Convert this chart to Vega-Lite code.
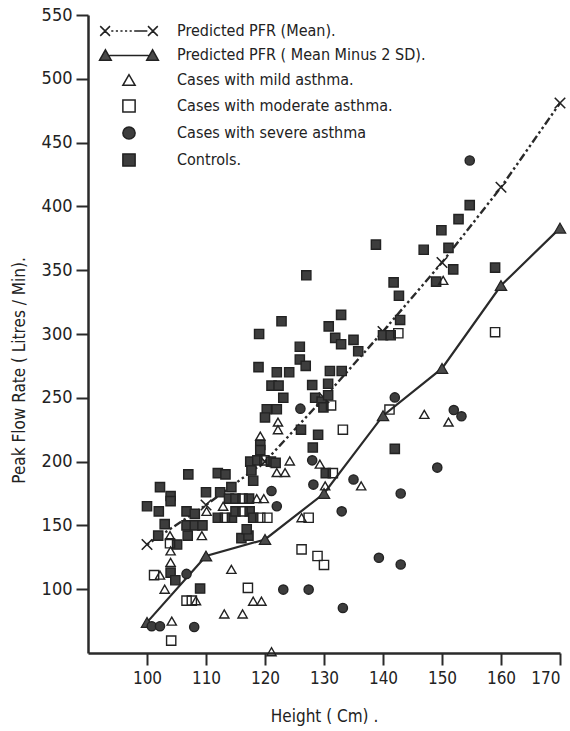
{
  "$schema": "https://vega.github.io/schema/vega-lite/v6.json",
  "width": 472,
  "height": 638,
  "autosize": "none",
  "padding": {"left": 88, "top": 15, "right": 10, "bottom": 78},
  "background": "white",
  "config": {
    "view": {"stroke": null},
    "font": "Liberation Sans Narrow, DejaVu Sans Condensed, DejaVu Sans, sans-serif",
    "axis": {"domainColor": "#2a2a2a", "domainWidth": 2.5, "tickColor": "#2a2a2a", "tickWidth": 2, "tickSize": 12, "labelColor": "#222", "titleColor": "#222", "labelFontSize": 17, "titleFontSize": 17, "titleFontWeight": "normal", "grid": false}
  },
  "datasets": {
    "mean": [
      {"h": 100, "p": 135}, {"h": 110, "p": 166}, {"h": 120, "p": 200}, {"h": 130, "p": 250},
      {"h": 140, "p": 302}, {"h": 150, "p": 356}, {"h": 160, "p": 415}, {"h": 170, "p": 481}
    ],
    "sd": [
      {"h": 100, "p": 74}, {"h": 110, "p": 126}, {"h": 120, "p": 139}, {"h": 130, "p": 175},
      {"h": 140, "p": 236}, {"h": 150, "p": 273}, {"h": 160, "p": 338}, {"h": 170, "p": 383}
    ],
    "pts": [
      {"g": "f", "h": 100, "p": 165}, {"g": "f", "h": 102, "p": 161}, {"g": "f", "h": 102.2, "p": 180}, {"g": "f", "h": 104, "p": 173},
      {"g": "f", "h": 104, "p": 169}, {"g": "f", "h": 107, "p": 190}, {"g": "f", "h": 106.7, "p": 161}, {"g": "f", "h": 108.1, "p": 159},
      {"g": "f", "h": 110, "p": 176}, {"g": "f", "h": 112, "p": 191}, {"g": "f", "h": 113.3, "p": 190}, {"g": "f", "h": 112.4, "p": 176},
      {"g": "f", "h": 114.3, "p": 180}, {"g": "f", "h": 112, "p": 156}, {"g": "f", "h": 114.4, "p": 156}, {"g": "f", "h": 103, "p": 151},
      {"g": "f", "h": 106.7, "p": 150}, {"g": "f", "h": 108.1, "p": 150}, {"g": "f", "h": 109.4, "p": 150}, {"g": "f", "h": 101.9, "p": 142},
      {"g": "f", "h": 106.9, "p": 142}, {"g": "f", "h": 105.1, "p": 135}, {"g": "f", "h": 104, "p": 113}, {"g": "f", "h": 104.8, "p": 107},
      {"g": "f", "h": 109, "p": 100.5}, {"g": "f", "h": 113.9, "p": 171}, {"g": "f", "h": 115, "p": 171}, {"g": "f", "h": 117.3, "p": 171},
      {"g": "f", "h": 115, "p": 161}, {"g": "f", "h": 117.4, "p": 161}, {"g": "f", "h": 118, "p": 156}, {"g": "f", "h": 116, "p": 140},
      {"g": "f", "h": 117.2, "p": 142}, {"g": "f", "h": 116.9, "p": 147},
      {"g": "f", "h": 122.8, "p": 310}, {"g": "f", "h": 132.9, "p": 315}, {"g": "f", "h": 130.8, "p": 306}, {"g": "f", "h": 119, "p": 300},
      {"g": "f", "h": 131.9, "p": 297}, {"g": "f", "h": 132.9, "p": 292}, {"g": "f", "h": 125.9, "p": 290}, {"g": "f", "h": 125.9, "p": 280},
      {"g": "f", "h": 126.9, "p": 275}, {"g": "f", "h": 118.9, "p": 274}, {"g": "f", "h": 122, "p": 270}, {"g": "f", "h": 124.1, "p": 270},
      {"g": "f", "h": 131, "p": 271}, {"g": "f", "h": 133, "p": 271}, {"g": "f", "h": 121.1, "p": 259.5}, {"g": "f", "h": 122.3, "p": 259.5},
      {"g": "f", "h": 128, "p": 260}, {"g": "f", "h": 130.7, "p": 261}, {"g": "f", "h": 123.1, "p": 250}, {"g": "f", "h": 128.5, "p": 250},
      {"g": "f", "h": 129.6, "p": 247}, {"g": "f", "h": 130.7, "p": 252}, {"g": "f", "h": 129.9, "p": 242.5}, {"g": "f", "h": 120.3, "p": 241},
      {"g": "f", "h": 122, "p": 241}, {"g": "f", "h": 120, "p": 234.6}, {"g": "f", "h": 127, "p": 346}, {"g": "f", "h": 138.8, "p": 370},
      {"g": "f", "h": 141.8, "p": 340.5}, {"g": "f", "h": 142.7, "p": 330}, {"g": "f", "h": 135, "p": 295.4}, {"g": "f", "h": 135.8, "p": 286.5},
      {"g": "f", "h": 142.9, "p": 311}, {"g": "f", "h": 140, "p": 299}, {"g": "f", "h": 141.3, "p": 299}, {"g": "f", "h": 126.1, "p": 225},
      {"g": "f", "h": 129, "p": 221}, {"g": "f", "h": 119.2, "p": 213}, {"g": "f", "h": 119.2, "p": 209}, {"g": "f", "h": 117.5, "p": 200},
      {"g": "f", "h": 118.7, "p": 201}, {"g": "f", "h": 121, "p": 200}, {"g": "f", "h": 121.8, "p": 199}, {"g": "f", "h": 117.7, "p": 193},
      {"g": "f", "h": 118, "p": 185}, {"g": "f", "h": 128.1, "p": 211}, {"g": "f", "h": 142, "p": 210}, {"g": "f", "h": 130.3, "p": 191},
      {"g": "f", "h": 152.8, "p": 390}, {"g": "f", "h": 154.7, "p": 401}, {"g": "f", "h": 149.9, "p": 381.3}, {"g": "f", "h": 146.9, "p": 366},
      {"g": "f", "h": 151.1, "p": 367.5}, {"g": "f", "h": 151.9, "p": 350.6}, {"g": "f", "h": 159, "p": 352}, {"g": "f", "h": 149, "p": 341},
      {"g": "d", "h": 113.2, "p": 156}, {"g": "d", "h": 103.9, "p": 136}, {"g": "d", "h": 116.2, "p": 171}, {"g": "d", "h": 116.2, "p": 161},
      {"g": "d", "h": 119.2, "p": 156}, {"g": "d", "h": 120.4, "p": 156}, {"g": "d", "h": 119.9, "p": 201}, {"g": "d", "h": 131.5, "p": 191},
      {"g": "d", "h": 127.4, "p": 156}, {"g": "d", "h": 101.2, "p": 111}, {"g": "d", "h": 106.7, "p": 91}, {"g": "d", "h": 107.6, "p": 91},
      {"g": "d", "h": 104.1, "p": 59.7}, {"g": "d", "h": 117.1, "p": 101}, {"g": "d", "h": 133.2, "p": 225}, {"g": "d", "h": 126.2, "p": 131.2},
      {"g": "d", "h": 128.9, "p": 126}, {"g": "d", "h": 130, "p": 119}, {"g": "d", "h": 131.2, "p": 244}, {"g": "d", "h": 141.1, "p": 240.8},
      {"g": "d", "h": 142.6, "p": 300.6}, {"g": "d", "h": 159, "p": 301.4},
      {"g": "c", "h": 110.1, "p": 161}, {"g": "c", "h": 112.9, "p": 165}, {"g": "c", "h": 103.9, "p": 142}, {"g": "c", "h": 109.3, "p": 142},
      {"g": "c", "h": 104, "p": 130}, {"g": "c", "h": 104, "p": 121}, {"g": "c", "h": 114.3, "p": 115.5}, {"g": "c", "h": 102.2, "p": 111},
      {"g": "c", "h": 103, "p": 100}, {"g": "c", "h": 108.3, "p": 91}, {"g": "c", "h": 113.1, "p": 80.6}, {"g": "c", "h": 116.2, "p": 80.6},
      {"g": "c", "h": 104.2, "p": 75}, {"g": "c", "h": 118, "p": 90.6}, {"g": "c", "h": 119.4, "p": 90.6}, {"g": "c", "h": 121.1, "p": 51},
      {"g": "c", "h": 118.6, "p": 171}, {"g": "c", "h": 119.8, "p": 171}, {"g": "c", "h": 122.2, "p": 231}, {"g": "c", "h": 122.2, "p": 225},
      {"g": "c", "h": 119.2, "p": 220}, {"g": "c", "h": 124.2, "p": 200.5}, {"g": "c", "h": 129.3, "p": 198}, {"g": "c", "h": 122, "p": 191.4},
      {"g": "c", "h": 123.4, "p": 191.4}, {"g": "c", "h": 130.2, "p": 181}, {"g": "c", "h": 136.3, "p": 181}, {"g": "c", "h": 126.2, "p": 156},
      {"g": "c", "h": 147, "p": 237}, {"g": "c", "h": 150.2, "p": 342}, {"g": "c", "h": 151.1, "p": 231},
      {"g": "e", "h": 106.7, "p": 112}, {"g": "e", "h": 100.8, "p": 71}, {"g": "e", "h": 102.2, "p": 71}, {"g": "e", "h": 108, "p": 70.4},
      {"g": "e", "h": 128, "p": 201}, {"g": "e", "h": 128.2, "p": 182}, {"g": "e", "h": 135, "p": 186}, {"g": "e", "h": 143, "p": 175},
      {"g": "e", "h": 121.1, "p": 177}, {"g": "e", "h": 122, "p": 165}, {"g": "e", "h": 133, "p": 161}, {"g": "e", "h": 126, "p": 241.5},
      {"g": "e", "h": 142, "p": 250.3}, {"g": "e", "h": 152, "p": 240.4}, {"g": "e", "h": 153.3, "p": 235.5}, {"g": "e", "h": 149.2, "p": 195.3},
      {"g": "e", "h": 139.3, "p": 124.6}, {"g": "e", "h": 143, "p": 119.4}, {"g": "e", "h": 123.1, "p": 99.7}, {"g": "e", "h": 127.4, "p": 99.7},
      {"g": "e", "h": 133.2, "p": 85.3}, {"g": "e", "h": 154.7, "p": 436}
    ]
  },
  "encoding": {
    "x": {"field": "h", "type": "quantitative", "scale": {"domain": [90, 170], "nice": false, "zero": false},
      "axis": {"values": [100, 110, 120, 130, 140, 150, 160, 170], "title": "Height ( Cm) .", "labelPadding": 5, "titlePadding": 22}},
    "y": {"field": "p", "type": "quantitative", "scale": {"domain": [50, 550], "nice": false, "zero": false},
      "axis": {"values": [100, 150, 200, 250, 300, 350, 400, 450, 500, 550], "title": "Peak Flow Rate ( Litres / Min).", "titleX": -60, "titleY": 355, "labelPadding": 4, "labelFontSize": 18}}
  },
  "layer": [
    {"data": {"name": "mean"}, "mark": {"type": "line", "stroke": "#2a2a2a", "strokeWidth": 2.4, "strokeDash": [2.5, 3, 2.5, 3, 8, 3]}},
    {"data": {"name": "sd"}, "mark": {"type": "line", "stroke": "#2a2a2a", "strokeWidth": 2.2}},
    {"data": {"name": "mean"}, "mark": {"type": "point", "shape": "M-1,-1L1,1M-1,1L1,-1", "size": 110, "stroke": "#222", "strokeWidth": 1.6, "fill": null, "opacity": 1}},
    {"data": {"name": "sd"}, "mark": {"type": "point", "shape": "triangle-up", "size": 130, "filled": true, "fill": "#4a4a4a", "stroke": "#222", "strokeWidth": 1.2, "opacity": 1}},
    {"data": {"name": "pts"},
      "mark": {"type": "point", "size": 85, "stroke": "#222", "strokeWidth": 1.4, "opacity": 1},
      "encoding": {
        "shape": {"field": "g", "type": "nominal",
          "scale": {"domain": ["a", "b", "c", "d", "e", "f"],
            "range": ["M-4.7,-0.8L-3.1,0.8M-4.7,0.8L-3.1,-0.8M3.1,-0.8L4.7,0.8M3.1,0.8L4.7,-0.8M-2.9,0L-2.55,0M-2.15,0L-1.8,0M-1.4,0L-1.05,0M-0.65,0L-0.3,0M0.1,0L0.45,0M0.85,0L3.0,0",
              "M-4.8,0.85L-3.85,-0.85L-2.9,0.85ZM2.9,0.85L3.85,-0.85L4.8,0.85ZM-3.2,0.1L3.2,0.1",
              "triangle-up", "square", "circle", "square"]},
          "legend": {"orient": "none", "legendX": 33, "legendY": 8, "title": null, "padding": 0, "symbolSize": 150, "labelFontSize": 16, "labelOffset": 40, "rowPadding": 7, "labelColor": "#222", "labelLimit": 400,
            "labelExpr": "datum.label == 'a' ? 'Predicted PFR (Mean).' : datum.label == 'b' ? 'Predicted PFR ( Mean Minus 2 SD).' : datum.label == 'c' ? 'Cases with mild asthma.' : datum.label == 'd' ? 'Cases with moderate asthma.' : datum.label == 'e' ? 'Cases with severe asthma' : 'Controls.'",
            "encode": {"symbols": {"update": {"stroke": {"value": "#222"}, "strokeWidth": {"value": 1.6}, "size": {"value": 150}, "opacity": {"value": 1}}}}}},
        "fill": {"field": "g", "type": "nominal",
          "scale": {"domain": ["a", "b", "c", "d", "e", "f"], "range": ["#2a2a2a", "#4a4a4a", "transparent", "transparent", "#3d3d3d", "#3d3d3d"]},
          "legend": {"orient": "none", "legendX": 33, "legendY": 8, "title": null, "padding": 0, "symbolSize": 150, "labelFontSize": 16, "labelOffset": 40, "rowPadding": 7, "labelColor": "#222", "labelLimit": 400,
            "labelExpr": "datum.label == 'a' ? 'Predicted PFR (Mean).' : datum.label == 'b' ? 'Predicted PFR ( Mean Minus 2 SD).' : datum.label == 'c' ? 'Cases with mild asthma.' : datum.label == 'd' ? 'Cases with moderate asthma.' : datum.label == 'e' ? 'Cases with severe asthma' : 'Controls.'",
            "encode": {"symbols": {"update": {"stroke": {"value": "#222"}, "strokeWidth": {"value": 1.6}, "size": {"value": 150}, "opacity": {"value": 1}}}}}}
      }
    }
  ]
}
